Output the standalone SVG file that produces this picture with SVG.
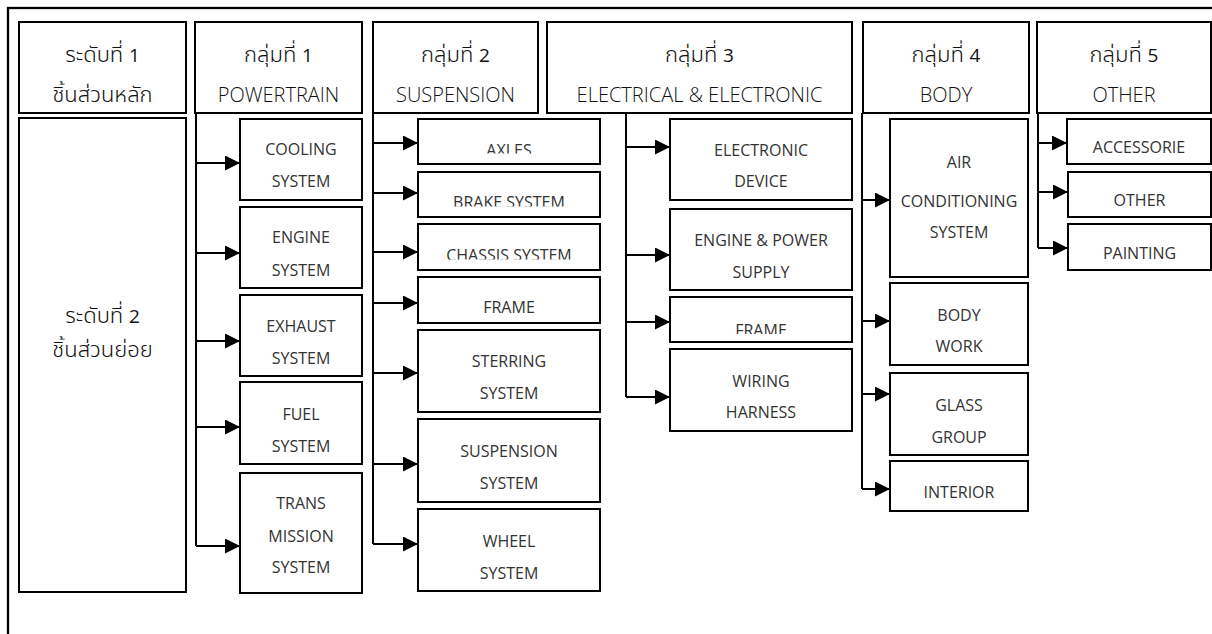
<svg xmlns="http://www.w3.org/2000/svg" width="1212" height="634" viewBox="0 0 1212 634">
  <style>
    .box { fill: #fff; stroke: #000; stroke-width: 2; }
    .frame { fill: none; stroke: #000; stroke-width: 2.3; }
    .link { fill: none; stroke: #000; stroke-width: 2; }
    .hd { font-family: "Open Sans", "Noto Sans Thai", "Noto Sans", "DejaVu Sans", sans-serif; font-size: 20px; font-weight: 300; fill: #111; text-anchor: middle; }
    .th { font-family: "Noto Sans Thai", "Noto Sans Thai UI", "Leelawadee UI", "Tahoma", "Noto Sans", sans-serif; font-size: 22px; font-weight: 300; fill: #111; text-anchor: middle; }
    .num { font-family: "Open Sans", "Noto Sans", sans-serif; font-size: 19px; font-weight: 400; }
    .lb { font-family: "Open Sans", "Noto Sans", "Liberation Sans", sans-serif; font-size: 16px; font-weight: 400; fill: #333; text-anchor: middle; }
  </style>
  <defs>
    <marker id="arrow" viewBox="0 0 15 15" refX="15" refY="7.5" markerWidth="15" markerHeight="15" markerUnits="userSpaceOnUse" orient="auto">
      <path d="M0,0 L15,7.5 L0,15 Z" fill="#000"/>
    </marker>
    <clipPath id="clipAxles"><rect x="418" y="119" width="182" height="34.5"/></clipPath>
    <clipPath id="clipBrake"><rect x="418" y="172" width="182" height="34.5"/></clipPath>
    <clipPath id="clipChassis"><rect x="418" y="224" width="182" height="35.5"/></clipPath>
    <clipPath id="clipFrame3"><rect x="670" y="297" width="182" height="37"/></clipPath>
  </defs>

  <!-- outer frame -->
  <rect class="frame" x="8" y="8" width="1230" height="640"/>

  <!-- connectors -->
  <g id="connectors">
    <!-- powertrain -->
    <path class="link" d="M196 113 V546"/>
    <path class="link" d="M196 163 H240" marker-end="url(#arrow)"/>
    <path class="link" d="M196 253 H240" marker-end="url(#arrow)"/>
    <path class="link" d="M196 341 H240" marker-end="url(#arrow)"/>
    <path class="link" d="M196 427 H240" marker-end="url(#arrow)"/>
    <path class="link" d="M196 546 H240" marker-end="url(#arrow)"/>
    <!-- suspension -->
    <path class="link" d="M373 113 V544"/>
    <path class="link" d="M373 143 H418" marker-end="url(#arrow)"/>
    <path class="link" d="M373 193 H418" marker-end="url(#arrow)"/>
    <path class="link" d="M373 252 H418" marker-end="url(#arrow)"/>
    <path class="link" d="M373 303 H418" marker-end="url(#arrow)"/>
    <path class="link" d="M373 373 H418" marker-end="url(#arrow)"/>
    <path class="link" d="M373 464 H418" marker-end="url(#arrow)"/>
    <path class="link" d="M373 544 H418" marker-end="url(#arrow)"/>
    <!-- electrical -->
    <path class="link" d="M626 113 V397"/>
    <path class="link" d="M626 147 H670" marker-end="url(#arrow)"/>
    <path class="link" d="M626 255 H670" marker-end="url(#arrow)"/>
    <path class="link" d="M626 322 H670" marker-end="url(#arrow)"/>
    <path class="link" d="M626 397 H670" marker-end="url(#arrow)"/>
    <!-- body -->
    <path class="link" d="M862 113 V489"/>
    <path class="link" d="M862 200 H890" marker-end="url(#arrow)"/>
    <path class="link" d="M862 321 H890" marker-end="url(#arrow)"/>
    <path class="link" d="M862 394 H890" marker-end="url(#arrow)"/>
    <path class="link" d="M862 489 H890" marker-end="url(#arrow)"/>
    <!-- other -->
    <path class="link" d="M1038 113 V248"/>
    <path class="link" d="M1038 143 H1067" marker-end="url(#arrow)"/>
    <path class="link" d="M1038 192 H1068" marker-end="url(#arrow)"/>
    <path class="link" d="M1038 248 H1068" marker-end="url(#arrow)"/>
  </g>

  <!-- header row -->
  <g id="level1">
    <rect class="box" x="19" y="22" width="167" height="91"/>
    <text class="th" x="102.5" y="61.7">ระดับที่ <tspan class="num">1</tspan></text>
    <text class="th" x="102.5" y="101.7">ชิ้นส่วนหลัก</text>
  </g>
  <g id="group1">
    <rect class="box" x="195" y="22" width="167" height="91"/>
    <text class="th" x="278.5" y="61.7">กลุ่มที่ <tspan class="num">1</tspan></text>
    <text class="hd" x="278.5" y="101.7">POWERTRAIN</text>
  </g>
  <g id="group2">
    <rect class="box" x="373" y="22" width="165" height="91"/>
    <text class="th" x="455.5" y="61.7">กลุ่มที่ <tspan class="num">2</tspan></text>
    <text class="hd" x="455.5" y="101.7">SUSPENSION</text>
  </g>
  <g id="group3">
    <rect class="box" x="547" y="22" width="305" height="91"/>
    <text class="th" x="699.5" y="61.7">กลุ่มที่ <tspan class="num">3</tspan></text>
    <text class="hd" x="699.5" y="101.7">ELECTRICAL &amp; ELECTRONIC</text>
  </g>
  <g id="group4">
    <rect class="box" x="863" y="22" width="166" height="91"/>
    <text class="th" x="946" y="61.7">กลุ่มที่ <tspan class="num">4</tspan></text>
    <text class="hd" x="946" y="101.7">BODY</text>
  </g>
  <g id="group5">
    <rect class="box" x="1037" y="22" width="174" height="91"/>
    <text class="th" x="1124" y="61.7">กลุ่มที่ <tspan class="num">5</tspan></text>
    <text class="hd" x="1124" y="101.7">OTHER</text>
  </g>

  <!-- level 2 label -->
  <g id="level2">
    <rect class="box" x="19" y="118" width="167" height="474"/>
    <text class="th" x="102.5" y="323.3">ระดับที่ <tspan class="num">2</tspan></text>
    <text class="th" x="102.5" y="356.7">ชิ้นส่วนย่อย</text>
  </g>

  <!-- powertrain parts -->
  <g id="cooling">
    <rect class="box" x="240" y="119" width="122" height="81"/>
    <text class="lb" x="301" y="155">COOLING</text>
    <text class="lb" x="301" y="187.3">SYSTEM</text>
  </g>
  <g id="engine">
    <rect class="box" x="240" y="207" width="122" height="81"/>
    <text class="lb" x="301" y="243.3">ENGINE</text>
    <text class="lb" x="301" y="275.7">SYSTEM</text>
  </g>
  <g id="exhaust">
    <rect class="box" x="240" y="295" width="122" height="81"/>
    <text class="lb" x="301" y="331.7">EXHAUST</text>
    <text class="lb" x="301" y="363.5">SYSTEM</text>
  </g>
  <g id="fuel">
    <rect class="box" x="240" y="382" width="122" height="82"/>
    <text class="lb" x="301" y="420">FUEL</text>
    <text class="lb" x="301" y="451.7">SYSTEM</text>
  </g>
  <g id="transmission">
    <rect class="box" x="240" y="473" width="122" height="120"/>
    <text class="lb" x="301" y="509.3">TRANS</text>
    <text class="lb" x="301" y="541.7">MISSION</text>
    <text class="lb" x="301" y="573.3">SYSTEM</text>
  </g>

  <!-- suspension parts -->
  <g id="axles">
    <rect class="box" x="418" y="119" width="182" height="45"/>
    <text class="lb" x="509" y="155.5" clip-path="url(#clipAxles)">AXLES</text>
  </g>
  <g id="brake">
    <rect class="box" x="418" y="172" width="182" height="45"/>
    <text class="lb" x="509" y="208.3" clip-path="url(#clipBrake)">BRAKE SYSTEM</text>
  </g>
  <g id="chassis">
    <rect class="box" x="418" y="224" width="182" height="46"/>
    <text class="lb" x="509" y="261.3" clip-path="url(#clipChassis)">CHASSIS SYSTEM</text>
  </g>
  <g id="frame2">
    <rect class="box" x="418" y="277" width="182" height="46"/>
    <text class="lb" x="509" y="313.3">FRAME</text>
  </g>
  <g id="steering">
    <rect class="box" x="418" y="330" width="182" height="82"/>
    <text class="lb" x="509" y="366.7">STERRING</text>
    <text class="lb" x="509" y="399">SYSTEM</text>
  </g>
  <g id="suspension">
    <rect class="box" x="418" y="419" width="182" height="83"/>
    <text class="lb" x="509" y="456.7">SUSPENSION</text>
    <text class="lb" x="509" y="489">SYSTEM</text>
  </g>
  <g id="wheel">
    <rect class="box" x="418" y="509" width="182" height="82"/>
    <text class="lb" x="509" y="547.3">WHEEL</text>
    <text class="lb" x="509" y="579">SYSTEM</text>
  </g>

  <!-- electrical parts -->
  <g id="electronic">
    <rect class="box" x="670" y="119" width="182" height="81"/>
    <text class="lb" x="761" y="155.7">ELECTRONIC</text>
    <text class="lb" x="761" y="187.3">DEVICE</text>
  </g>
  <g id="power">
    <rect class="box" x="670" y="209" width="182" height="81"/>
    <text class="lb" x="761" y="246">ENGINE &amp; POWER</text>
    <text class="lb" x="761" y="277.7">SUPPLY</text>
  </g>
  <g id="frame3">
    <rect class="box" x="670" y="297" width="182" height="45"/>
    <text class="lb" x="761" y="335.7" clip-path="url(#clipFrame3)">FRAME</text>
  </g>
  <g id="wiring">
    <rect class="box" x="670" y="349" width="182" height="82"/>
    <text class="lb" x="761" y="386.7">WIRING</text>
    <text class="lb" x="761" y="418.3">HARNESS</text>
  </g>

  <!-- body parts -->
  <g id="aircon">
    <rect class="box" x="890" y="119" width="138" height="158"/>
    <text class="lb" x="959" y="168.3">AIR</text>
    <text class="lb" x="959" y="206.7">CONDITIONING</text>
    <text class="lb" x="959" y="238.3">SYSTEM</text>
  </g>
  <g id="bodywork">
    <rect class="box" x="890" y="283" width="138" height="82"/>
    <text class="lb" x="959" y="320.7">BODY</text>
    <text class="lb" x="959" y="352.3">WORK</text>
  </g>
  <g id="glass">
    <rect class="box" x="890" y="373" width="138" height="82"/>
    <text class="lb" x="959" y="410.7">GLASS</text>
    <text class="lb" x="959" y="442.7">GROUP</text>
  </g>
  <g id="interior">
    <rect class="box" x="890" y="461" width="138" height="50"/>
    <text class="lb" x="959" y="498.3">INTERIOR</text>
  </g>

  <!-- other parts -->
  <g id="accessorie">
    <rect class="box" x="1067" y="119" width="144" height="45"/>
    <text class="lb" x="1139" y="152.7">ACCESSORIE</text>
  </g>
  <g id="other">
    <rect class="box" x="1068" y="172" width="143" height="45"/>
    <text class="lb" x="1139.5" y="205.7">OTHER</text>
  </g>
  <g id="painting">
    <rect class="box" x="1068" y="224" width="143" height="46"/>
    <text class="lb" x="1139.5" y="259">PAINTING</text>
  </g>
</svg>
